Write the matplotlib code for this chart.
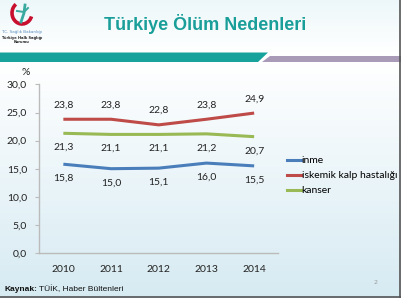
import numpy as np
import matplotlib
matplotlib.use("Agg")
import matplotlib.pyplot as plt
from matplotlib.patches import Polygon, Arc
from matplotlib.lines import Line2D

years = ["2010", "2011", "2012", "2013", "2014"]
inme = [15.8, 15.0, 15.1, 16.0, 15.5]
iskemik = [23.8, 23.8, 22.8, 23.8, 24.9]
kanser = [21.3, 21.1, 21.1, 21.2, 20.7]
series_names = ["inme", "iskemik kalp hastalığı", "kanser"]
yticks = [0, 5, 10, 15, 20, 25, 30]

W, H = 402, 298
fig = plt.figure(figsize=(W / 100, H / 100), dpi=100)

# background
bg = fig.add_axes([0, 0, 1, 1], zorder=-10)
bg.set_xlim(0, W)
bg.set_ylim(H, 0)
bg.axis("off")
grad = np.ones((H, 1, 3))
for i in range(H):
    if i < 52:
        c = np.array([0.93, 0.97, 0.98]) * (1 - i / 52) + np.array([1, 1, 1]) * (i / 52)
    else:
        tt = max((i - 62) / (H - 62), 0)
        c = np.array([1, 1, 1]) * (1 - tt) + np.array([0.84, 0.92, 0.95]) * tt
    grad[i, 0] = c
bg.imshow(grad, extent=[0, W, H, 0], aspect="auto", zorder=0)
# header bars
bg.add_patch(Polygon([[0, 52.5], [268, 52.5], [258, 62], [0, 62]], closed=True,
                     color="#17a39b", lw=0, zorder=1))
bg.add_patch(Polygon([[270, 56], [402, 56], [402, 62], [262, 62]], closed=True,
                     color="#a99ab8", lw=0, zorder=1))
# frame edges
bg.plot([400.5, 400.5], [0, H], color="#555555", lw=1.2, zorder=2)
bg.plot([0, W], [296.5, 296.5], color="#555555", lw=1.2, zorder=2)
# logo
bg.add_patch(Arc((22, 13), 20, 22, theta1=20, theta2=235, color="#c8102e", lw=2.6, zorder=2))
bg.plot([21, 24, 25], [22, 13, 5], color="#3aa9a0", lw=2.0, zorder=3)
bg.plot([17, 24, 28], [11, 12, 8], color="#3aa9a0", lw=1.4, zorder=3)
bg.text(22, 32.5, "T.C. Sağlık Bakanlığı", fontsize=3, color="#5b8fc0",
        ha="center", va="center", family="DejaVu Sans")
bg.text(22, 38, "Türkiye Halk Sağlığı", fontsize=2.6, color="#222222",
        ha="center", va="center", family="DejaVu Sans", weight="bold")
bg.text(22, 42, "Kurumu", fontsize=2.6, color="#222222",
        ha="center", va="center", family="DejaVu Sans", weight="bold")
# title
bg.text(205, 24, "Türkiye Ölüm Nedenleri", fontsize=13, weight="bold",
        color="#199e99", ha="center", va="center", family="Liberation Sans")
# source
bg.text(5, 289.5, "Kaynak:", fontsize=6, weight="bold", color="#111111",
        ha="left", va="center", family="Liberation Sans")
bg.text(39.5, 289.5, "TÜİK, Haber Bültenleri", fontsize=6, color="#111111",
        ha="left", va="center", family="Liberation Sans")
bg.text(376, 283, "2", fontsize=4.5, color="#999999", ha="center", va="center")

# chart
left, right = 39.5 / W, 278 / W
bottom, top = (H - 253) / H, (H - 84.4) / H
ax = fig.add_axes([left, bottom, right - left, top - bottom])
ax.patch.set_alpha(0)
x = np.arange(len(years))
colors = ["#4a7ebb", "#be4b48", "#98b954"]
data = [inme, iskemik, kanser]
for vals, col in zip(data, colors):
    ax.plot(x, vals, color=col, lw=2.2, solid_capstyle="butt")

fmt = lambda v: f"{v:.1f}".replace(".", ",")
txt_kw = dict(fontsize=7.5, color="#222222", ha="center", family="Lato")
for xi, v in zip(x, iskemik):
    ax.annotate(fmt(v), (xi, v), xytext=(0, 7), textcoords="offset points",
                va="bottom", **txt_kw)
for xi, v in zip(x, kanser):
    ax.annotate(fmt(v), (xi, v), xytext=(0, -7), textcoords="offset points",
                va="top", **txt_kw)
for xi, v in zip(x, inme):
    ax.annotate(fmt(v), (xi, v), xytext=(0, -7), textcoords="offset points",
                va="top", **txt_kw)

ax.set_xlim(-0.5, len(years) - 0.5)
ax.set_ylim(0, 30)
ax.set_yticks(yticks)
ax.set_yticklabels([fmt(v) for v in yticks], family="Lato", fontsize=7.5, color="#222222")
ax.set_xticks(x)
ax.set_xticklabels(years, family="Lato", fontsize=7.5, color="#222222")
ax.tick_params(axis="y", length=3, color="#bbbbbb", pad=6)
ax.tick_params(axis="x", length=0, pad=9)
for s in ["top", "right"]:
    ax.spines[s].set_visible(False)
for s in ["left", "bottom"]:
    ax.spines[s].set_color("#bbbbbb")
    ax.spines[s].set_linewidth(1)
ax.text(-0.06, 1.07, "%", transform=ax.transAxes, fontsize=7.5, family="Lato",
        ha="center", va="center", color="#222222")

handles = [Line2D([], [], color=c, lw=2.2) for c in colors]
leg = fig.legend(handles, series_names, loc="upper left",
                 bbox_to_anchor=(283 / W, (H - 152) / H), frameon=False,
                 prop={"family": "Lato", "size": 7.5}, handlelength=1.3,
                 handletextpad=0.1, labelspacing=0.55, borderaxespad=0)

fig.savefig("out.png", dpi=100)
